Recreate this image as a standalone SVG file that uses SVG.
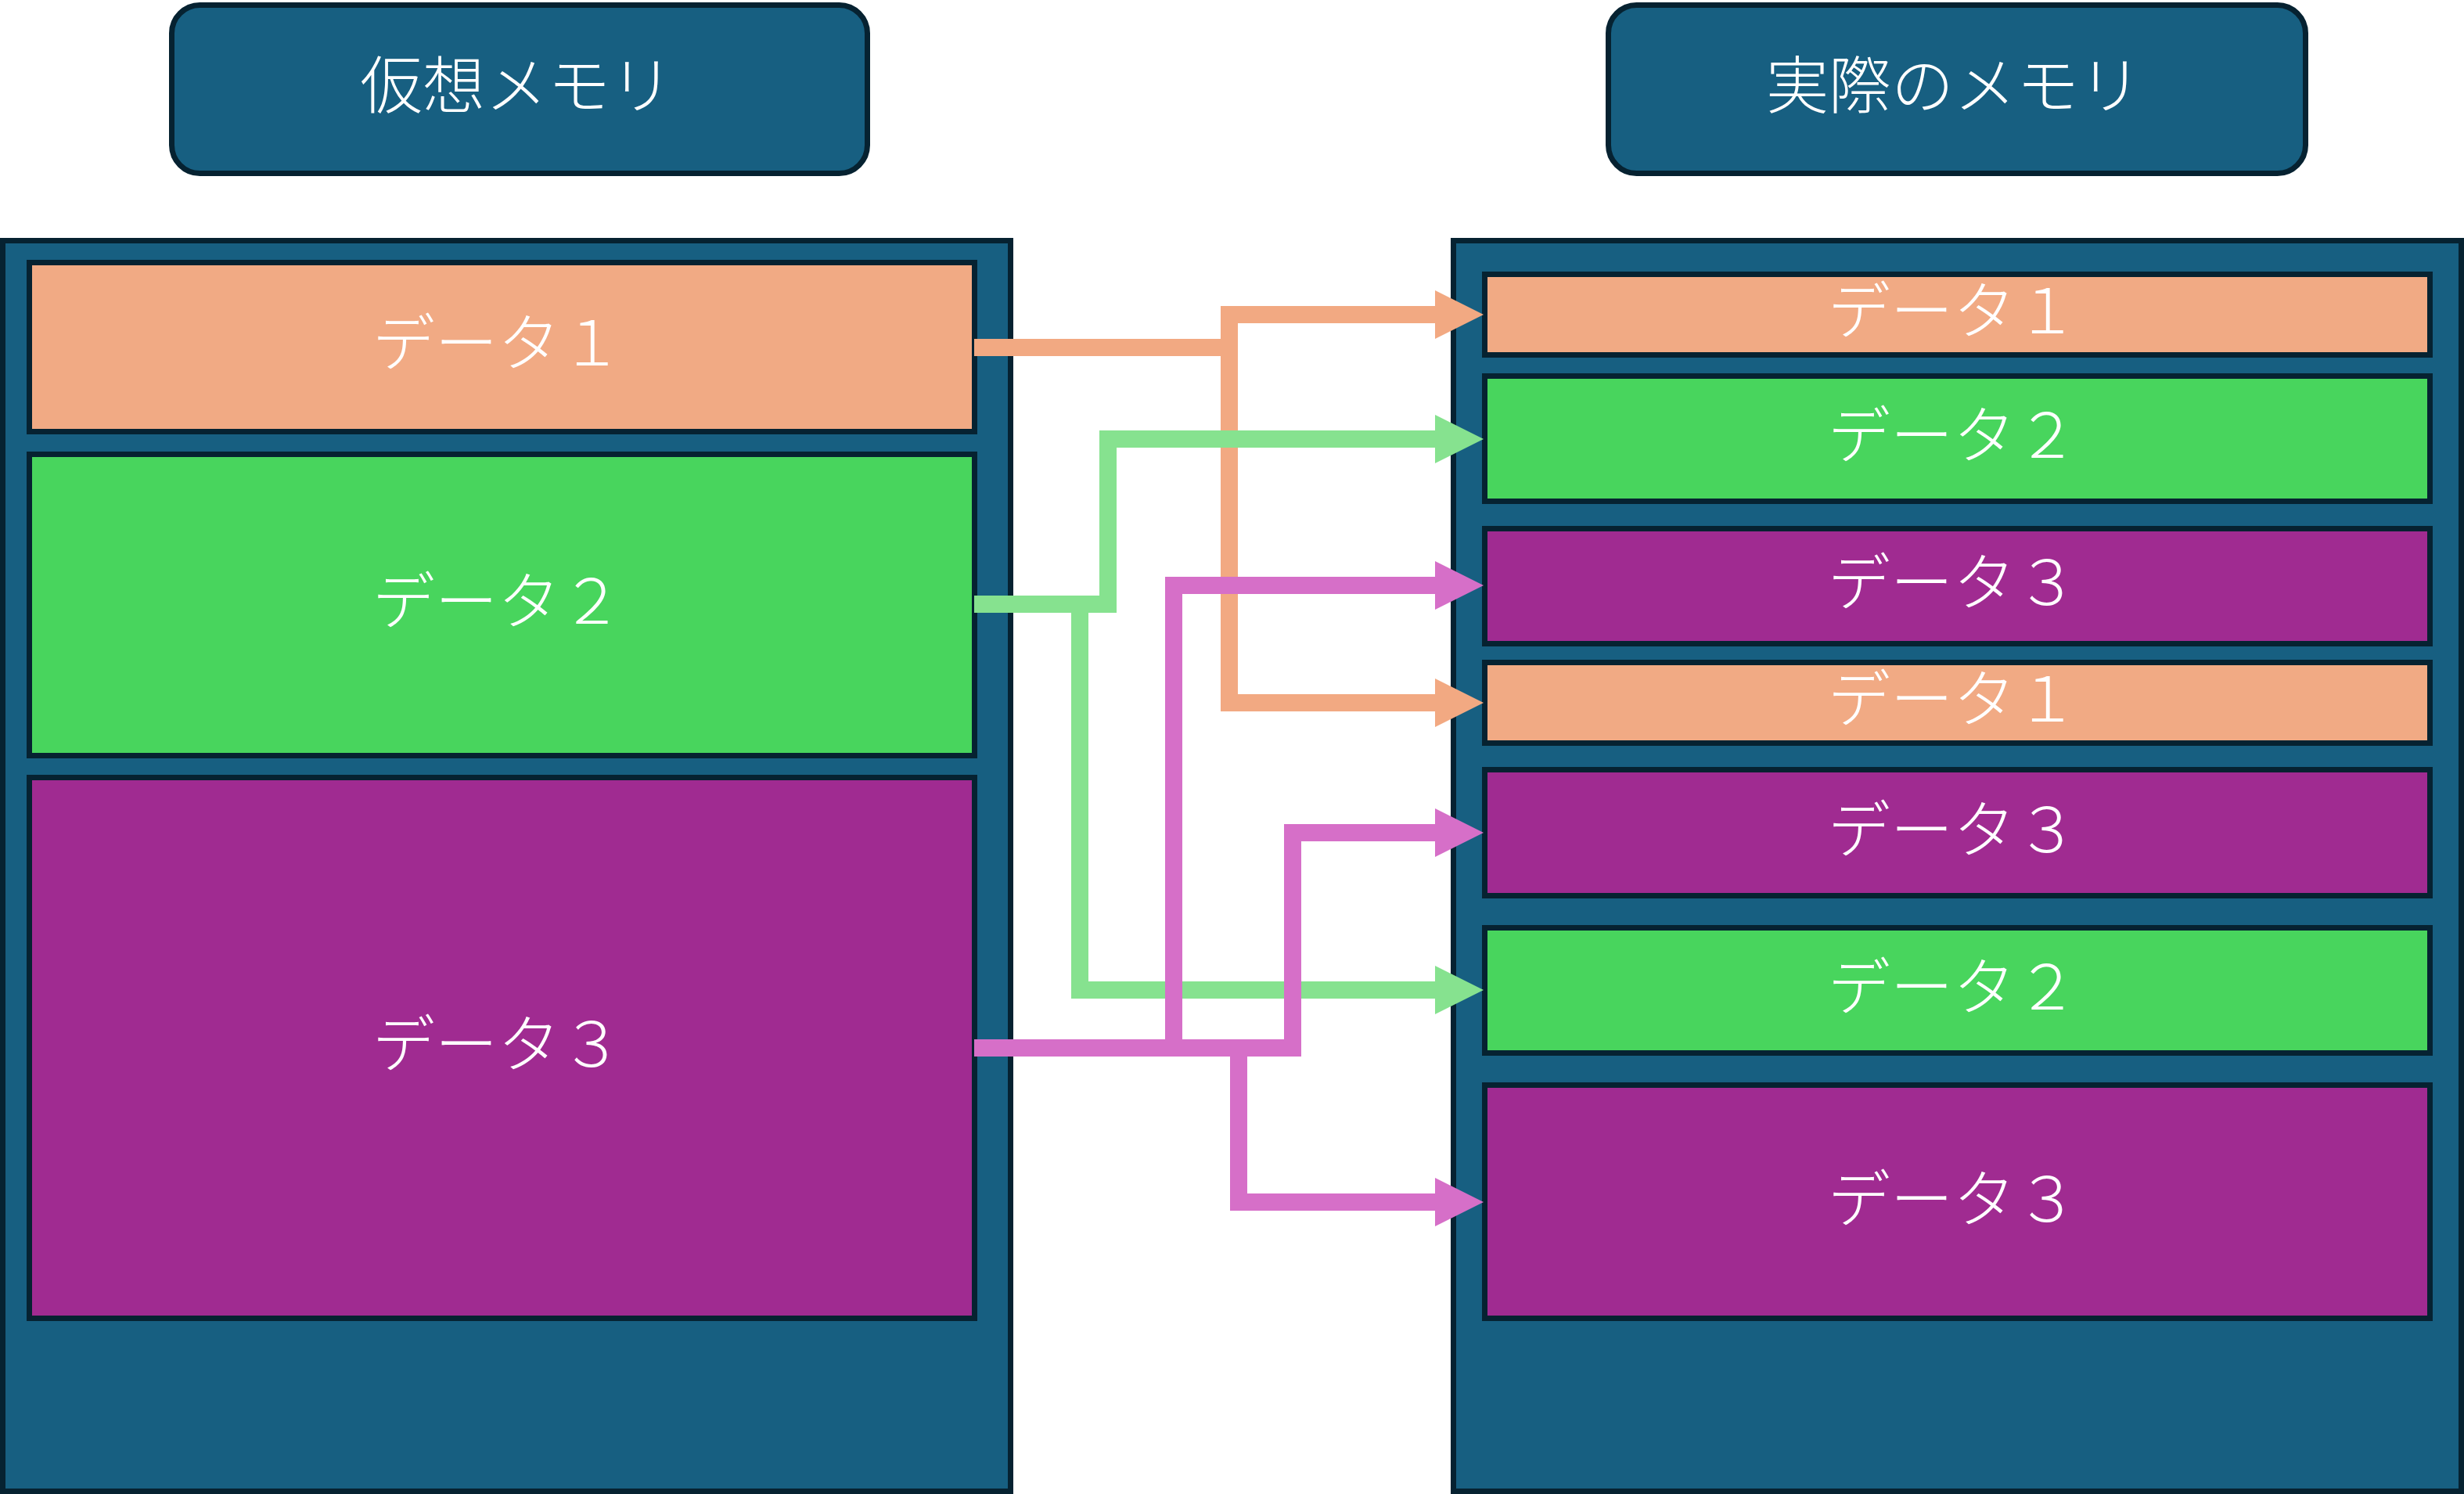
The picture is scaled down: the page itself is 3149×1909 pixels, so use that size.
<svg xmlns="http://www.w3.org/2000/svg" width="3149" height="1909" viewBox="0 0 3149 1909">
<style>
.panel{fill:#175f81;stroke:#062231;stroke-width:7}
.hdr{fill:#175f81;stroke:#062231;stroke-width:7}
.box{stroke:#062231;stroke-width:7}
.o{fill:#f1aa84}
.g{fill:#48d55d}
.p{fill:#a02b91}
.t{fill:#ffffff;font-family:"Noto Sans CJK JP","Noto Sans CJK SC",sans-serif;font-weight:300;font-size:80px;text-anchor:middle;dominant-baseline:central}
.c{fill:none;stroke-width:22;stroke-linejoin:miter}
.co{stroke:#f2a982}
.cg{stroke:#86e28f}
.cp{stroke:#d66fc8}
</style>
<defs>
<marker id="ao" markerUnits="userSpaceOnUse" markerWidth="62" markerHeight="62" viewBox="0 0 62 62" refX="2" refY="31" orient="auto"><path d="M0,0 L62,31 L0,62 z" fill="#f2a982"/></marker>
<marker id="ag" markerUnits="userSpaceOnUse" markerWidth="62" markerHeight="62" viewBox="0 0 62 62" refX="2" refY="31" orient="auto"><path d="M0,0 L62,31 L0,62 z" fill="#86e28f"/></marker>
<marker id="ap" markerUnits="userSpaceOnUse" markerWidth="62" markerHeight="62" viewBox="0 0 62 62" refX="2" refY="31" orient="auto"><path d="M0,0 L62,31 L0,62 z" fill="#d66fc8"/></marker>
</defs>
<rect width="3149" height="1909" fill="#ffffff"/>

<g id="header-virtual">
<rect class="hdr" x="219.5" y="6.5" width="889" height="215" rx="36" ry="36"/>
<text class="t" x="660" y="103">仮想メモリ</text>
</g>
<g id="header-physical">
<rect class="hdr" x="2055.5" y="6.5" width="891" height="215" rx="36" ry="36"/>
<text class="t" x="2497" y="103">実際のメモリ</text>
</g>

<g id="virtual-memory">
<rect class="panel" x="3.5" y="307.5" width="1288" height="1598"/>
</g>
<g id="physical-memory">
<rect class="panel" x="1857.5" y="307.5" width="1288" height="1598"/>
</g>

<g id="v-data1"><rect class="box o" x="37.5" y="335.5" width="1208" height="216"/><text class="t" x="636" y="432">データ１</text></g>
<g id="v-data2"><rect class="box g" x="37.5" y="580.5" width="1208" height="385"/><text class="t" x="636" y="762">データ２</text></g>
<g id="v-data3"><rect class="box p" x="37.5" y="993.5" width="1208" height="691"/><text class="t" x="636" y="1328">データ３</text></g>

<g id="p-data1a"><rect class="box o" x="1897.5" y="350.5" width="1208" height="103"/><text class="t" x="2496" y="391">データ１</text></g>
<g id="p-data2a"><rect class="box g" x="1897.5" y="480.5" width="1208" height="160"/><text class="t" x="2496" y="550">データ２</text></g>
<g id="p-data3a"><rect class="box p" x="1897.5" y="675.5" width="1208" height="147"/><text class="t" x="2496" y="738">データ３</text></g>
<g id="p-data1b"><rect class="box o" x="1897.5" y="846.5" width="1208" height="103"/><text class="t" x="2496" y="887">データ１</text></g>
<g id="p-data3b"><rect class="box p" x="1897.5" y="983.5" width="1208" height="161"/><text class="t" x="2496" y="1054">データ３</text></g>
<g id="p-data2b"><rect class="box g" x="1897.5" y="1185.5" width="1208" height="160"/><text class="t" x="2496" y="1255">データ２</text></g>
<g id="p-data3c"><rect class="box p" x="1897.5" y="1386.5" width="1208" height="298"/><text class="t" x="2496" y="1526">データ３</text></g>

<g id="connectors">
<path class="c co" d="M1245,444 H1571 V402 H1836" marker-end="url(#ao)"/>
<path class="c co" d="M1571,444 V898 H1836" marker-end="url(#ao)"/>
<path class="c cg" d="M1245,772 H1416 V561 H1836" marker-end="url(#ag)"/>
<path class="c cg" d="M1380,772 V1265 H1836" marker-end="url(#ag)"/>
<path class="c cp" d="M1245,1339 H1652 V1064 H1836" marker-end="url(#ap)"/>
<path class="c cp" d="M1500,1339 V748 H1836" marker-end="url(#ap)"/>
<path class="c cp" d="M1583,1339 V1536 H1836" marker-end="url(#ap)"/>
</g>
</svg>
